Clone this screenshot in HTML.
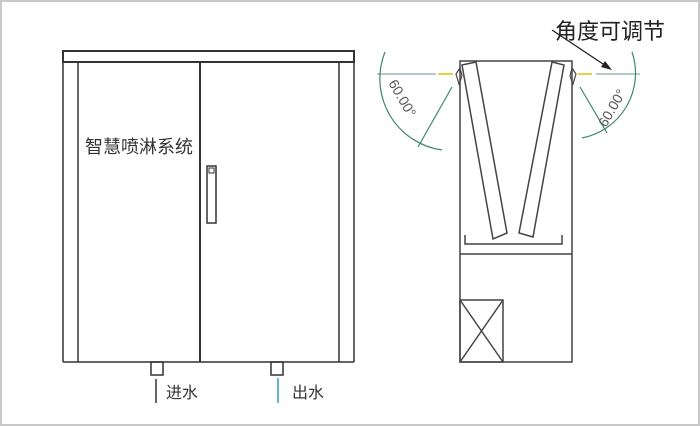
<!DOCTYPE html>
<html><head><meta charset="utf-8"><style>
html,body{margin:0;padding:0;background:#fff;}
svg{display:block;}
text{font-family:"Liberation Sans","Noto Sans CJK SC",sans-serif;}
</style></head><body>
<svg width="700" height="426" viewBox="0 0 700 426" xmlns="http://www.w3.org/2000/svg">
<rect x="1" y="1" width="698" height="424" fill="#fff" stroke="#c8c8c8" stroke-width="2"/>
<g fill="none" stroke="#333" stroke-width="1.5">
<rect x="63" y="51" width="291" height="11" stroke-width="2"/>
<line x1="63" y1="62" x2="63" y2="362"/>
<line x1="354" y1="62" x2="354" y2="362"/>
<line x1="78" y1="62" x2="78" y2="362"/>
<line x1="339" y1="62" x2="339" y2="362"/>
<line x1="200" y1="62" x2="200" y2="362" stroke-width="2"/>
<line x1="63" y1="362" x2="354" y2="362"/>
<rect x="207" y="166" width="9" height="57"/>
<rect x="209" y="168" width="5" height="5" stroke-width="1"/>
<rect x="151" y="362" width="12" height="13"/>
<rect x="271" y="362" width="12" height="13"/>
<line x1="156" y1="379" x2="156" y2="403"/>
</g>
<line x1="278" y1="378" x2="278" y2="403" stroke="#2aa3c0" stroke-width="1.5"/>
<text x="85" y="153" font-size="18" fill="#333">智慧喷淋系统</text>
<text x="166" y="398" font-size="16" fill="#333">进水</text>
<text x="292" y="398" font-size="16" fill="#333">出水</text>
<g fill="none" stroke="#444" stroke-width="1.5">
<rect x="460" y="61" width="112" height="301"/>
<line x1="460" y1="254" x2="572" y2="254"/>
<polyline points="465,235 465,244 562,244 562,235"/>
<rect x="460" y="300" width="43" height="62"/>
<line x1="460" y1="300" x2="503" y2="362"/>
<line x1="503" y1="300" x2="460" y2="362"/>
<polygon points="462,65 476,62 507,233 493,239"/>
<polygon points="552,62 564,65 533,237 519,233"/>
<path d="M456,74 l4,-6 l2,8 l-3,8 z" stroke-width="1.2"/>
<path d="M576,74 l-4,-6 l-2,8 l3,8 z" stroke-width="1.2"/>
</g>
<g fill="none" stroke="#3d8a6a" stroke-width="1.2">
<line x1="377" y1="74" x2="436" y2="74" stroke="#8aa"/>
<line x1="596" y1="74" x2="640" y2="74" stroke="#8aa"/>
<path d="M385,52 A72,72 0 0 0 442,150"/>
<line x1="452" y1="87" x2="418" y2="147"/>
<path d="M632,52 A66,66 0 0 1 582,138"/>
<line x1="580" y1="87" x2="607" y2="133"/>
</g>
<line x1="438" y1="74" x2="453" y2="74" stroke="#e8d040" stroke-width="2"/>
<line x1="578" y1="74" x2="592" y2="74" stroke="#e8d040" stroke-width="2"/>
<text transform="translate(388,83) rotate(60)" font-size="14" fill="#555">60.00°</text>
<text transform="translate(606,128) rotate(-60)" font-size="14" fill="#555">60.00°</text>
<line x1="552" y1="30" x2="606" y2="66" stroke="#222" stroke-width="1.3"/>
<polygon points="612,70 601,67 605,61" fill="#222"/>
<text x="555" y="39" font-size="22" fill="#222">角度可调节</text>
</svg>
</body></html>
